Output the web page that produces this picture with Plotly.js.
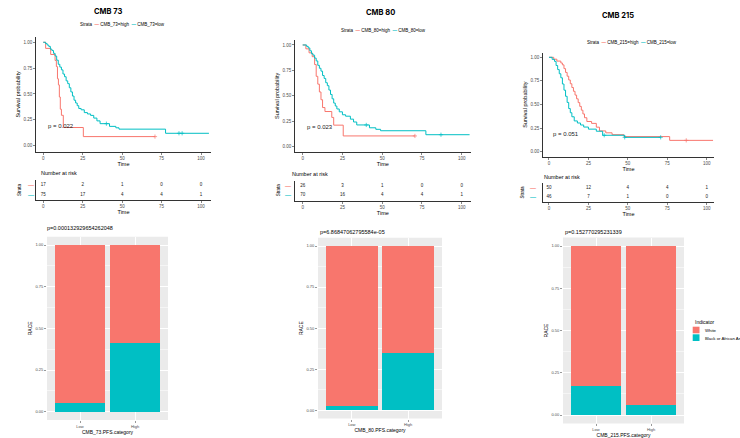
<!DOCTYPE html>
<html><head><meta charset="utf-8">
<script src="https://cdn.plot.ly/plotly-3.0.1.min.js"></script>
<style>html,body{margin:0;padding:0;background:#fff}#chart{width:740px;height:438px}</style>
</head><body><div id="chart"></div>
<script>
// ---- Kaplan-Meier curves (time, survival) ----
const km73HighT = [0,1.5,4.7,7.5,8.3,9,9.6,10.2,10.8,11.5,12.7,25.4,70.8];
const km73HighS = [1,0.941,0.882,0.824,0.765,0.647,0.588,0.471,0.353,0.294,0.176,0.088,0.088];
const km73LowT = [0,1.5,2.5,3.5,4.5,5.5,6.5,7.5,8.5,9.5,10.5,11.5,12.5,13.5,14.5,15.5,16.5,17.5,18.5,19.5,20.5,21.5,22.5,24,26,28,30,32,34,36,40,42,46,48,77.5,105];
const km73LowS = [1,0.987,0.973,0.96,0.933,0.92,0.893,0.867,0.827,0.787,0.76,0.733,0.693,0.667,0.627,0.6,0.56,0.52,0.48,0.44,0.413,0.387,0.36,0.347,0.32,0.307,0.293,0.267,0.24,0.213,0.213,0.187,0.173,0.16,0.12,0.12];

const km80HighT = [0,2,4,6,7.5,8.5,9.5,10.5,11.5,12.5,14,18.3,19.5,25.5,70.6];
const km80HighS = [1,0.962,0.923,0.885,0.808,0.692,0.615,0.538,0.462,0.385,0.346,0.288,0.212,0.106,0.106];
const km80LowT = [0,2.5,3.5,4.5,5.5,6.5,7.5,8.5,9.5,10.5,11.5,12.5,13.5,14.5,15.5,16.5,17.5,18.5,19.5,20.5,21.5,23,25,27,30,32,34,40,42,46,49,77.5,105];
const km80LowS = [1,0.986,0.971,0.943,0.914,0.9,0.871,0.843,0.8,0.771,0.743,0.7,0.671,0.629,0.6,0.557,0.514,0.471,0.429,0.4,0.371,0.343,0.314,0.3,0.271,0.243,0.214,0.214,0.186,0.171,0.157,0.118,0.118];

const km215HighT = [0,3,5,7.5,8.5,9.5,10.5,11.5,12.5,13.5,14.5,15.5,16.5,17.5,18.5,19.5,20.5,21.5,22.5,24,27,30,32,36,40,47.5,76.5,104];
const km215HighS = [1,0.98,0.96,0.94,0.92,0.88,0.84,0.8,0.76,0.72,0.68,0.64,0.6,0.56,0.52,0.48,0.44,0.4,0.36,0.32,0.3,0.26,0.22,0.2,0.18,0.16,0.12,0.12];
const km215LowT = [0,2,3.5,4.5,5.5,6.5,7.5,8.5,9.5,10.5,11.5,12.5,13.5,14.5,16,18,20,22,25,30,34,48,70.8];
const km215LowS = [1,0.978,0.957,0.913,0.87,0.826,0.783,0.717,0.652,0.587,0.522,0.457,0.413,0.37,0.326,0.304,0.283,0.261,0.239,0.217,0.174,0.152,0.152];

// censor marks
const cen73HighT=[70.8], cen73HighS=[0.088];
const cen73LowT=[40,86,88], cen73LowS=[0.213,0.12,0.12];
const cen80HighT=[70.6], cen80HighS=[0.106];
const cen80LowT=[40,87], cen80LowS=[0.214,0.118];
const cen215HighT=[87], cen215HighS=[0.12];
const cen215LowT=[35,48,70.8], cen215LowS=[0.174,0.152,0.152];

// ---- number at risk ----
const riskTimes = [0,25,50,75,100];
const risk73High = [17,2,1,0,0];
const risk73Low  = [75,17,4,4,1];
const risk80High = [26,3,1,0,0];
const risk80Low  = [70,16,4,4,1];
const risk215High = [50,12,4,4,1];
const risk215Low  = [46,7,1,0,0];

// ---- race proportions by PFS category ----
const pfsCats = ['Low','High'];
const race73Black = [0.053,0.412];
const race73White = [0.947,0.588];
const race80Black = [0.029,0.346];
const race80White = [0.971,0.654];
const race215Black = [0.174,0.06];
const race215White = [0.826,0.94];
const pvals = ['p=0.000132929654262048','p=6.86847062795584e-05','p=0.152770295231339'];
const kmP = ['p = 0.022','p = 0.023','p = 0.051'];

const RED='#F8766D', TEAL='#00BFC4';
const H=438, W=740;
const fy = p => 1 - p/H, fx = p => p/W;
const FONT = 'Liberation Sans, Arial, sans-serif';

function kmTrace(t,s,col,xa,ya){return {x:t,y:s,type:'scatter',mode:'lines',line:{shape:'hv',color:col,width:1},xaxis:xa,yaxis:ya,hoverinfo:'skip'};}
function cenTrace(t,s,col,xa,ya){return {x:t,y:s,type:'scatter',mode:'markers',marker:{symbol:'cross-thin',size:3,line:{color:col,width:0.7}},xaxis:xa,yaxis:ya,hoverinfo:'skip'};}
function riskTrace(vals,row,xa,ya){return {x:riskTimes,y:riskTimes.map(()=>row),text:vals.map(String),type:'scatter',mode:'text',textfont:{size:4.5,color:'#222',family:FONT},xaxis:xa,yaxis:ya,hoverinfo:'skip',cliponaxis:false};}
function barTrace(vals,col,xa,ya){return {x:pfsCats,y:vals,type:'bar',marker:{color:col},width:0.92,xaxis:xa,yaxis:ya,hoverinfo:'skip'};}

const data = [
  kmTrace(km73HighT,km73HighS,RED,'x','y'), kmTrace(km73LowT,km73LowS,TEAL,'x','y'),
  cenTrace(cen73HighT,cen73HighS,RED,'x','y'), cenTrace(cen73LowT,cen73LowS,TEAL,'x','y'),
  kmTrace(km80HighT,km80HighS,RED,'x2','y2'), kmTrace(km80LowT,km80LowS,TEAL,'x2','y2'),
  cenTrace(cen80HighT,cen80HighS,RED,'x2','y2'), cenTrace(cen80LowT,cen80LowS,TEAL,'x2','y2'),
  kmTrace(km215HighT,km215HighS,RED,'x3','y3'), kmTrace(km215LowT,km215LowS,TEAL,'x3','y3'),
  cenTrace(cen215HighT,cen215HighS,RED,'x3','y3'), cenTrace(cen215LowT,cen215LowS,TEAL,'x3','y3'),
  riskTrace(risk73High,2,'x4','y4'), riskTrace(risk73Low,1,'x4','y4'),
  riskTrace(risk80High,2,'x5','y5'), riskTrace(risk80Low,1,'x5','y5'),
  riskTrace(risk215High,2,'x6','y6'), riskTrace(risk215Low,1,'x6','y6'),
  barTrace(race73Black,TEAL,'x7','y7'), barTrace(race73White,RED,'x7','y7'),
  barTrace(race80Black,TEAL,'x8','y8'), barTrace(race80White,RED,'x8','y8'),
  barTrace(race215Black,TEAL,'x9','y9'), barTrace(race215White,RED,'x9','y9')
];

const tickF = {size:4.5,color:'#4D4D4D',family:FONT};
function kmX(dom,rng,ya){return {domain:dom,range:rng,anchor:ya,showline:true,linecolor:'#000',linewidth:0.8,ticks:'outside',ticklen:2,tickwidth:0.6,tickcolor:'#333',tickfont:tickF,tickvals:[0,25,50,75,100],showgrid:false,zeroline:false,title:{text:'Time',font:{size:5.5,color:'#000',family:FONT},standoff:1}};}
function kmY(dom,rng,xa){return {domain:dom,range:rng,anchor:xa,showline:true,linecolor:'#000',linewidth:0.8,ticks:'outside',ticklen:2,tickwidth:0.6,tickcolor:'#333',tickfont:tickF,tickvals:[0,0.25,0.5,0.75,1],ticktext:['0.00','0.25','0.50','0.75','1.00'],showgrid:false,zeroline:false,title:{text:'Survival probability',font:{size:5.5,color:'#000',family:FONT},standoff:2}};}
function rkY(dom,rng,xa){return {domain:dom,range:rng,anchor:xa,showline:true,linecolor:'#000',linewidth:0.8,ticks:'',showticklabels:false,showgrid:false,zeroline:false};}
function barX(dom,ya,title){return {domain:dom,anchor:ya,type:'category',range:[-0.6,1.6],ticks:'outside',ticklen:2,tickwidth:0.5,tickcolor:'#333',tickfont:{size:4,color:'#4D4D4D',family:FONT},showgrid:true,gridcolor:'#fff',gridwidth:1,zeroline:false,showline:false,title:{text:title,font:{size:5,color:'#000',family:FONT},standoff:1}};}
function barY(dom,xa){return {domain:dom,anchor:xa,range:[-0.05,1.05],tickvals:[0,0.25,0.5,0.75,1],ticktext:['0.00','0.25','0.50','0.75','1.00'],ticks:'outside',ticklen:2,tickwidth:0.5,tickcolor:'#333',tickfont:{size:4,color:'#4D4D4D',family:FONT},showgrid:true,gridcolor:'#fff',gridwidth:1,minor:{tick0:0.125,dtick:0.25,showgrid:true,gridcolor:'#fff',gridwidth:0.5},zeroline:false,showline:false,title:{text:'RACE',font:{size:5,color:'#000',family:FONT},standoff:2}};}

const dK1x=[fx(36),fx(211)], dK2x=[fx(295),fx(470.7)], dK3x=[fx(543),fx(714)];
const layout = {
  width:W,height:H,margin:{l:0,r:0,t:0,b:0},paper_bgcolor:'#fff',plot_bgcolor:'rgba(0,0,0,0)',
  showlegend:false,barmode:'stack',font:{family:FONT},
  xaxis:kmX(dK1x,[-4.6,106.3],'y'), yaxis:kmY([fy(151.7),fy(37)],[-0.058,1.051],'x'),
  xaxis2:kmX(dK2x,[-4.84,105.7],'y2'), yaxis2:kmY([fy(151.7),fy(40)],[-0.049,1.049],'x2'),
  xaxis3:kmX(dK3x,[-3.8,104.6],'y3'), yaxis3:kmY([fy(156.7),fy(52.5)],[-0.053,1.051],'x3'),
  xaxis4:kmX(dK1x,[-4.6,106.3],'y4'), yaxis4:rkY([fy(200),fy(180)],[0.5,2.5],'x4'),
  xaxis5:kmX(dK2x,[-4.84,105.7],'y5'), yaxis5:rkY([fy(201),fy(181)],[0.355,2.505],'x5'),
  xaxis6:kmX(dK3x,[-3.8,104.6],'y6'), yaxis6:rkY([fy(202),fy(183)],[0.444,2.556],'x6'),
  xaxis7:barX([fx(47),fx(168)],'y7','CMB_73.PFS.category'), yaxis7:barY([fy(420),fy(236.7)],'x7'),
  xaxis8:barX([fx(318),fx(442)],'y8','CMB_80.PFS.category'), yaxis8:barY([fy(418.5),fy(237.8)],'x8'),
  xaxis9:barX([fx(563),fx(684)],'y9','CMB_215.PFS.category'), yaxis9:barY([fy(423.45),fy(237.55)],'x9'),
  shapes:[
    {type:'rect',xref:'x7 domain',yref:'y7 domain',x0:0,x1:1,y0:0,y1:1,fillcolor:'#EBEBEB',line:{width:0},layer:'below'},
    {type:'rect',xref:'x8 domain',yref:'y8 domain',x0:0,x1:1,y0:0,y1:1,fillcolor:'#EBEBEB',line:{width:0},layer:'below'},
    {type:'rect',xref:'x9 domain',yref:'y9 domain',x0:0,x1:1,y0:0,y1:1,fillcolor:'#EBEBEB',line:{width:0},layer:'below'},
    {type:'rect',xref:'paper',yref:'paper',x0:fx(692.7),x1:fx(699.5),y0:fy(333.3),y1:fy(326.7),fillcolor:RED,line:{width:0}},
    {type:'rect',xref:'paper',yref:'paper',x0:fx(692.7),x1:fx(699.5),y0:fy(341),y1:fy(334.3),fillcolor:TEAL,line:{width:0}}
  ],
  annotations:[]
};
const A = layout.annotations;
function ann(text,x,y,size,opts){A.push(Object.assign({text:text,xref:'paper',yref:'paper',x:fx(x),y:fy(y),showarrow:false,font:{size:size,color:'#000',family:FONT},xanchor:'center',yanchor:'middle'},opts||{}));}
// titles
ann('<b>CMB 73</b>',108,11.7,7.5,{font:{size:7.5,color:'#000',family:'Inter, sans-serif'}});
ann('<b>CMB 80</b>',380,12.7,7.5,{font:{size:7.5,color:'#000',family:'Inter, sans-serif'}});
ann('<b>CMB 215</b>',618,15,7.5,{font:{size:7.5,color:'#000',family:'Inter, sans-serif'}});
// strata legends
function strataLeg(name,cx,y){ann('Strata  <span style="color:'+RED+'"><b>—</b></span> '+name+'=high  <span style="color:'+TEAL+'"><b>—</b></span> '+name+'=low',cx,y,4.5);}
strataLeg('CMB_73',122,25); strataLeg('CMB_80',383,30); strataLeg('CMB_215',632,42.3);
// KM p-values
[['x','y'],['x2','y2'],['x3','y3']].forEach((ax,i)=>{A.push({text:kmP[i],xref:ax[0],yref:ax[1],x:1.5,y:0.19,showarrow:false,xanchor:'left',yanchor:'middle',font:{size:6,color:'#222',family:FONT}});});
// Number at risk + strata keys
[[39,173,19,31,185,195],[290,174,278,288,185.7,195],[542,177,522,533,188,197]].forEach(r=>{
  ann('Number at risk',r[0],r[1],5.5,{xanchor:'left'});
  ann('Strata',r[2],(r[4]+r[5])/2,4.5,{textangle:-90});
  ann('<b>—</b>',r[3],r[4],6,{font:{size:6,color:RED,family:FONT}});
  ann('<b>—</b>',r[3],r[5],6,{font:{size:6,color:TEAL,family:FONT}});
});
// bar p-values
ann(pvals[0],45,228,5.5,{xanchor:'left'});
ann(pvals[1],318,232,5.5,{xanchor:'left'});
ann(pvals[2],563,232,5.5,{xanchor:'left'});
// indicator legend
ann('Indicator',692.7,321.7,5,{xanchor:'left'});
ann('White',703,330,4.3,{xanchor:'left'});
ann('Black or African American',703,338,4.3,{xanchor:'left'});

Plotly.newPlot('chart',data,layout,{staticPlot:true,displayModeBar:false});
</script></body></html>
